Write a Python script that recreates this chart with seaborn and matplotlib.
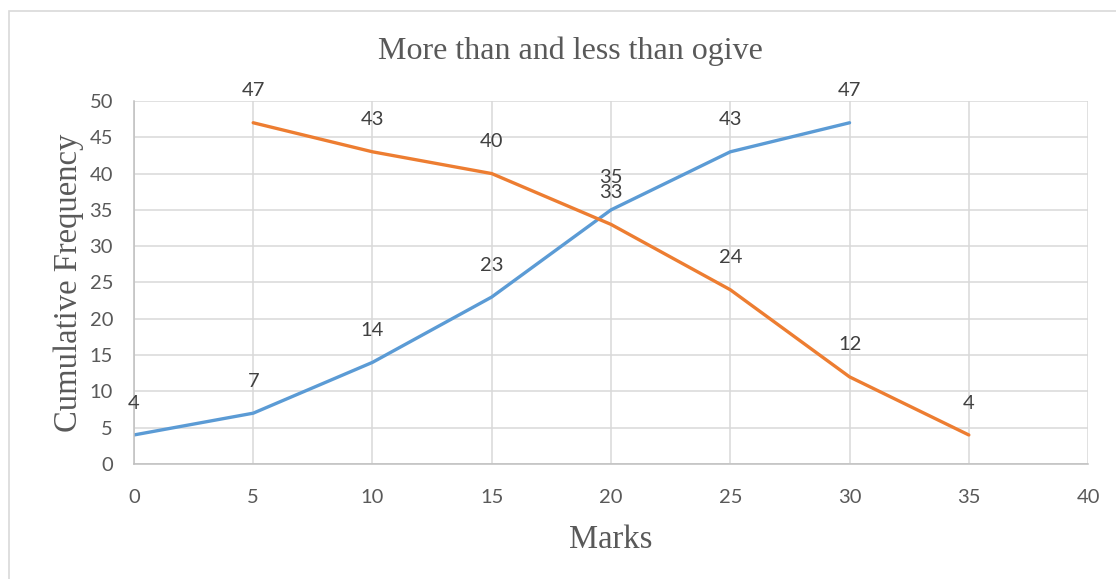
import pandas as pd
import seaborn as sns
import matplotlib.pyplot as plt
from matplotlib.patches import Rectangle

# data
less_marks = [0, 5, 10, 15, 20, 25, 30]
less_cf = [4, 7, 14, 23, 35, 43, 47]
more_marks = [5, 10, 15, 20, 25, 30, 35]
more_cf = [47, 43, 40, 33, 24, 12, 4]

blue = '#5B9BD5'
orange = '#ED7D31'
grey_txt = '#595959'

sns.set_style('white')
plt.rcParams['font.family'] = ['Lato', 'DejaVu Sans']

df_less = pd.DataFrame({'Marks': less_marks, 'cf': less_cf})
df_more = pd.DataFrame({'Marks': more_marks, 'cf': more_cf})

fig = plt.figure(figsize=(11.16, 5.79), dpi=100)
ax = fig.add_axes([0.120, 0.1986, 0.855, 0.627])

sns.lineplot(data=df_less, x='Marks', y='cf', color=blue, linewidth=2.4, ax=ax)
sns.lineplot(data=df_more, x='Marks', y='cf', color=orange, linewidth=2.4, ax=ax)

for d in (df_less, df_more):
    for x, y in zip(d['Marks'], d['cf']):
        ax.annotate(str(y), (x, y), xytext=(0, 23), textcoords='offset points',
                    ha='center', va='center', fontsize=14.5, color='#404040')

ax.set_xlim(0, 40)
ax.set_ylim(0, 50)
ax.set_xticks(range(0, 41, 5))
ax.set_yticks(range(0, 51, 5))
ax.grid(True, color='#D9D9D9', linewidth=1.1)
ax.set_axisbelow(True)
for s in ['top', 'right']:
    ax.spines[s].set_visible(False)
for s in ['left', 'bottom']:
    ax.spines[s].set_color('#BFBFBF')
    ax.spines[s].set_linewidth(1.1)
ax.tick_params(axis='both', length=0, labelsize=14.5, labelcolor=grey_txt)
ax.tick_params(axis='y', pad=15)
ax.tick_params(axis='x', pad=18)

serif = ['Liberation Serif', 'DejaVu Serif']
ax.set_xlabel('Marks', family=serif, fontsize=23.5, color=grey_txt, labelpad=13)
ax.set_ylabel('Cumulative Frequency', family=serif, fontsize=23.5, color=grey_txt, labelpad=4)
fig.text(0.511, 0.912, 'More than and less than ogive', family=serif, fontsize=23,
         color=grey_txt, ha='center', va='center')

# outer chart frame
fig.patches.append(Rectangle((9 / 1116, -0.01), 1.2, 1 - 11 / 579 + 0.01, transform=fig.transFigure,
                             fill=False, edgecolor='#D9D9D9', linewidth=1.2))

fig.savefig('out.png', dpi=100)
